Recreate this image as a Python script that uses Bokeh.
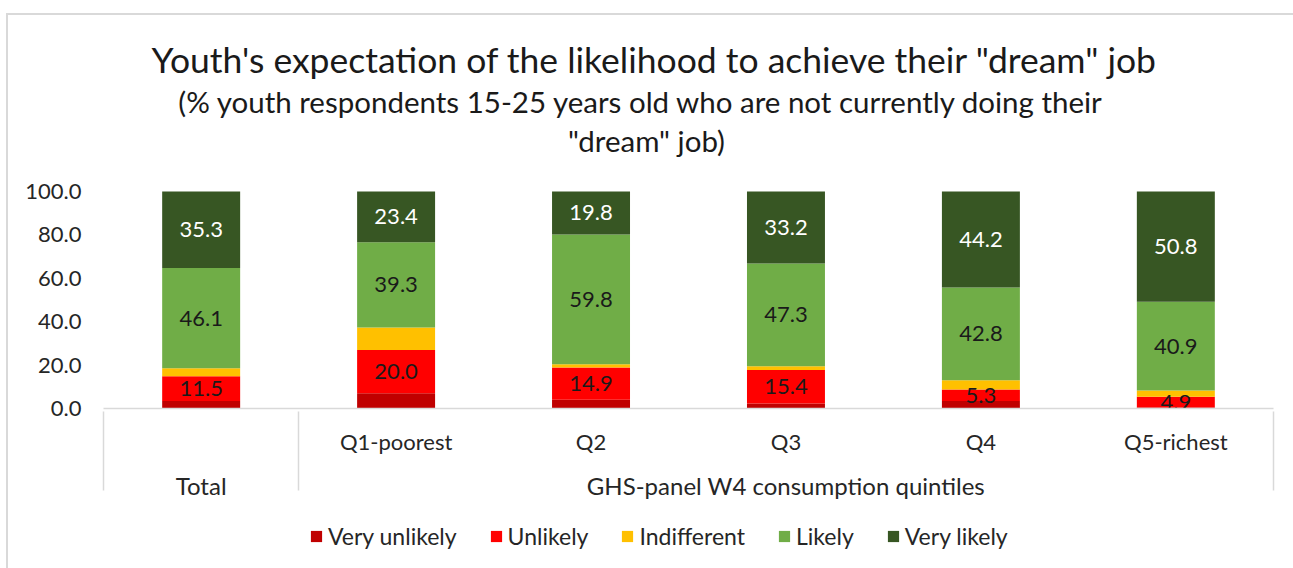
from bokeh.plotting import figure
from bokeh.models import (FactorRange, Range1d, FixedTicker, PrintfTickFormatter, Column,
                          Legend, LegendItem, Label, ColumnDataSource, InlineStyleSheet)
from bokeh.core.properties import value
from bokeh.embed import file_html
from bokeh.resources import INLINE

# ---------------- data ----------------
group_total = "Total"
group_quint = "GHS-panel W4 consumption quintiles"
groups = [group_total, group_quint, group_quint, group_quint, group_quint, group_quint]
categories = ["", "Q1-poorest", "Q2", "Q3", "Q4", "Q5-richest"]

series = ["Very unlikely", "Unlikely", "Indifferent", "Likely", "Very likely"]
very_unlikely = [3.4, 7.0, 4.0, 2.3, 3.4, 0.5]
unlikely = [11.5, 20.0, 14.9, 15.4, 5.3, 4.9]
indifferent = [3.7, 10.3, 1.5, 1.8, 4.3, 2.9]
likely = [46.1, 39.3, 59.8, 47.3, 42.8, 40.9]
very_likely = [35.3, 23.4, 19.8, 33.2, 44.2, 50.8]
colors = ["#C00000", "#FF0000", "#FFC000", "#70AD47", "#375623"]
labelled = ["Unlikely", "Likely", "Very likely"]
label_colors = {"Unlikely": "#1a1a1a", "Likely": "#1a1a1a", "Very likely": "#ffffff"}

y_ticks = [0, 20, 40, 60, 80, 100]

title_1 = "Youth's expectation of the likelihood to achieve their \"dream\" job"
title_2 = "(% youth respondents 15-25 years old who are not currently doing their"
title_3 = "\"dream\" job)"

FONT = "Lato"
TXT = "#262626"

# ---------------- layout constants (pixels) ----------------
PLOT_TOP_PX = 191      # where 100 % sits below the title block
PLOT_H_PX = 217        # 0..100 %
Y_END = 100.0 * (PLOT_TOP_PX + PLOT_H_PX) / PLOT_H_PX   # room for the title block inside the frame
LEGEND_H = 60

# ---------------- build ----------------
factors = list(zip(groups, categories))
values = dict(zip(series, [very_unlikely, unlikely, indifferent, likely, very_likely]))
src = ColumnDataSource(dict(x=factors, **values))

# invisible edge groups so that the axis draws separators at both ends
edge_l, edge_r = (" ", ""), ("  ", "")
xr = FactorRange(edge_l, *factors, edge_r, range_padding=-0.999,
                 range_padding_units="absolute", factor_padding=0, group_padding=0)

border_css = InlineStyleSheet(css="""
:host {
  background:
    linear-gradient(#d9d9d9, #d9d9d9) 6px 13px / 2px 560px no-repeat,
    linear-gradient(#d9d9d9, #d9d9d9) 6px 13px / 1290px 2px no-repeat,
    #ffffff;
}
""")

p = figure(x_range=xr, y_range=Range1d(0, Y_END),
           frame_width=1170, frame_height=PLOT_TOP_PX + PLOT_H_PX,
           output_backend="svg", toolbar_location=None,
           min_border_left=103, min_border_right=20, min_border_top=0, min_border_bottom=100)
p.outline_line_color = None
p.xgrid.grid_line_color = None
p.ygrid.grid_line_color = None
p.background_fill_color = None
p.border_fill_color = None

renderers = p.vbar_stack(series, x="x", width=0.4, color=colors, source=src, line_color=None)

# data labels
lx, ly, lt, lc = [], [], [], []
for i, f in enumerate(factors):
    base = 0.0
    for s in series:
        v = values[s][i]
        if s in labelled:
            lx.append(f)
            ly.append(base + v / 2)
            lt.append("%.1f" % v)
            lc.append(label_colors[s])
        base += v
lsrc = ColumnDataSource(dict(x=lx, y=ly, text=lt, color=lc))
p.text(x="x", y="y", text="text", text_color="color", source=lsrc,
       text_align="center", text_baseline="middle",
       text_font=value(FONT), text_font_size="22px")

# y axis
p.yaxis.ticker = FixedTicker(ticks=y_ticks)
p.yaxis.formatter = PrintfTickFormatter(format="%.1f")
p.yaxis.axis_line_color = None
p.yaxis.major_tick_line_color = None
p.yaxis.minor_tick_line_color = None
p.yaxis.major_tick_out = 0
p.yaxis.major_label_standoff = 22
p.yaxis.major_label_text_font = FONT
p.yaxis.major_label_text_font_size = "22px"
p.yaxis.major_label_text_color = TXT

# x axis (two levels)
xa = p.xaxis[0]
xa.axis_line_color = "#d9d9d9"
xa.axis_line_width = 1.5
xa.major_tick_line_color = None
xa.minor_tick_line_color = None
xa.major_label_standoff = 13
xa.major_label_text_font = FONT
xa.major_label_text_font_size = "22px"
xa.major_label_text_color = TXT
xa.group_text_font = FONT
xa.group_text_font_size = "24px"
xa.group_text_font_style = "normal"
xa.group_text_color = TXT
xa.separator_line_color = "#d9d9d9"
xa.separator_line_width = 1.5

# title block (inside the frame, above the 100 % line)
for txt, cx, cy, fs in [(title_1, 654, 59, "35.5px"), (title_2, 641, 101, "29.5px"), (title_3, 646, 140, "29.5px")]:
    p.add_layout(Label(x=cx, y=cy, x_units="canvas", y_units="canvas", text=txt,
                       text_align="center", text_baseline="middle",
                       text_font=FONT, text_font_size=fs, text_color="#1a1a1a"))

# legend strip below the chart: same stacked series, drawn out of view, only the legend shows
lf = figure(x_range=xr, y_range=Range1d(1000, 1001),
            frame_width=1170, frame_height=LEGEND_H,
            x_axis_type=None, y_axis_type=None,
            min_border_left=103, min_border_right=20, min_border_top=0, min_border_bottom=0,
            output_backend="svg", toolbar_location=None)
lf.outline_line_color = None
lf.background_fill_color = None
lf.border_fill_color = None
for g in lf.grid:
    g.visible = False
legend_renderers = lf.vbar_stack(series, x="x", width=0.4, color=colors, source=src, line_color=None)
legend = Legend(items=[LegendItem(label=s, renderers=[r]) for s, r in zip(series, legend_renderers)],
                orientation="horizontal", location=(206, 18),
                glyph_width=14, glyph_height=14, label_standoff=5, spacing=32,
                padding=2, margin=0, border_line_color=None, background_fill_alpha=0,
                label_text_font=FONT, label_text_font_size="23px", label_text_color=TXT)
lf.add_layout(legend, "center")

page = Column(children=[p, lf], spacing=0, stylesheets=[border_css])

open("out.html", "w").write(file_html(page, INLINE))
